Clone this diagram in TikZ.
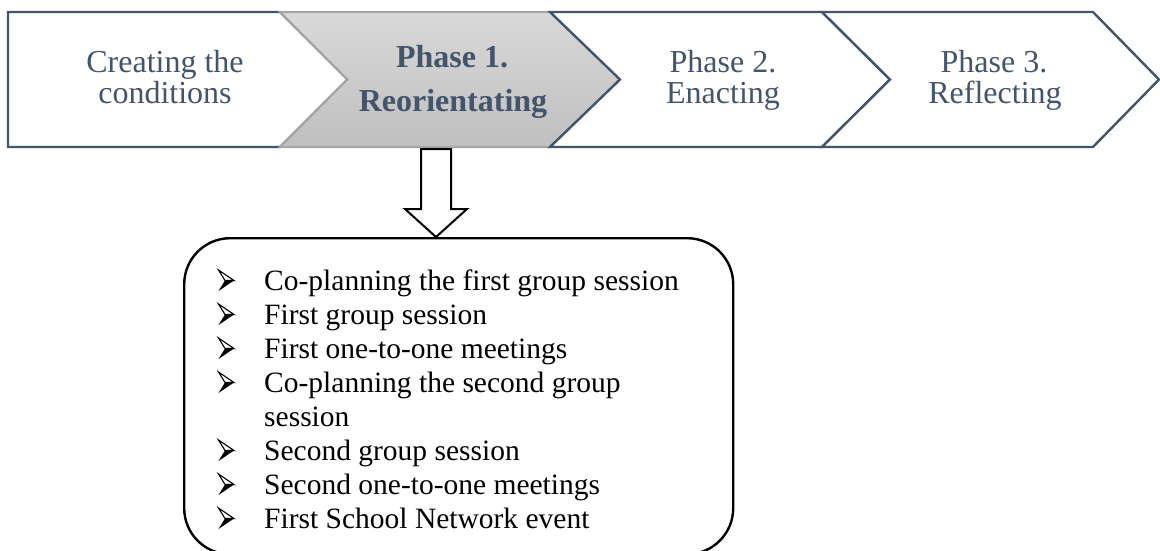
\documentclass[tikz,border=0pt]{standalone}
\usepackage{fontspec}
\setmainfont{Liberation Serif}
\usetikzlibrary{calc}
\definecolor{slate}{HTML}{44546A}
\definecolor{edgegray}{HTML}{A6A6A6}
\definecolor{shadetop}{HTML}{D9D9D9}
\definecolor{shadebot}{HTML}{BFBFBF}
\begin{document}
\begin{tikzpicture}[x=1pt,y=-1pt,
  chev/.style={draw=slate, line width=2.4pt, fill=white, line join=miter},
  activechev/.style={draw=edgegray, line width=2pt, top color=shadetop, bottom color=shadebot},
  head/.style={text=slate, inner sep=0pt, anchor=base, font=\fontsize{32}{38}\selectfont},
  boldhead/.style={head, font=\fontsize{32}{38}\selectfont\bfseries},
  listline/.style={inner sep=0pt, anchor=base west, font=\fontsize{29.5}{34}\selectfont},
  blockarrow/.style={draw=black, line width=2pt, fill=white, line join=miter},
  listbox/.style={draw=black, line width=2.4pt, rounded corners=46pt, inner sep=0pt,
    minimum width=549pt, minimum height=316pt, anchor=north west}]
\useasboundingbox (0,0) rectangle (1160,550);
\clip (0,0) rectangle (1160,550);

% phase chevrons
\draw[chev] (8,12) -- (280,12) -- (347.5,79.5) -- (280,147) -- (8,147) -- cycle;
\draw[activechev] (280,12) -- (550,12) -- (620,79.5) -- (550,147) -- (280,147) -- (347.5,79.5) -- cycle;
\draw[chev] (550,12) -- (822,12) -- (890,79.5) -- (822,147) -- (550,147) -- (620,79.5) -- cycle;
\draw[chev] (822,12) -- (1093,12) -- (1159,79.5) -- (1093,147) -- (822,147) -- (890,79.5) -- cycle;

% chevron labels
\node[head] (c0a) at (165,72) {Creating the};
\node[head] (c0b) at (165,103) {conditions};
\node[boldhead] (c1a) at (452,67) {Phase 1.};
\node[boldhead] (c1b) at (453,111) {Reorientating};
\node[head] (c2a) at (723,72) {Phase 2.};
\node[head] (c2b) at (723,103) {Enacting};
\node[head] (c3a) at (994,72) {Phase 3.};
\node[head] (c3b) at (995,103) {Reflecting};

% box listing the steps of phase 1
\node[listbox] (steps) at (183,237) {};

% block arrow from phase 1 down to the box
\coordinate (arrtop) at (436,149);
\draw[blockarrow] ($(arrtop)+(-15,0)$) -- ($(arrtop)+(15,0)$) -- ($(arrtop)+(15,60)$)
  -- ($(arrtop)+(31,60)$) -- (steps.north -| arrtop) -- ($(arrtop)+(-31,60)$)
  -- ($(arrtop)+(-15,60)$) -- cycle;

% list entries
\foreach \k/\txt in {0/{Co-planning the first group session},
                     1/{First group session},
                     2/{First one-to-one meetings},
                     3/{Co-planning the second group},
                     4/{session},
                     5/{Second group session},
                     6/{Second one-to-one meetings},
                     7/{First School Network event}}{
  \node[listline] (item\k) at (264,290+34*\k) {\txt};
}

% arrowhead bullets
\foreach \k in {0,1,2,3,5,6,7}{
  \pgfmathsetmacro\b{290+34*\k}
  \fill[black] (225,\b-9.5) -- (234,\b-9.5) -- (218.5,\b+1) -- cycle;
  \draw[black, line width=1.1pt, line join=miter] (218.5,\b-20) -- (234,\b-9.5) -- (225,\b-9.5) -- cycle;
}
\end{tikzpicture}
\end{document}
